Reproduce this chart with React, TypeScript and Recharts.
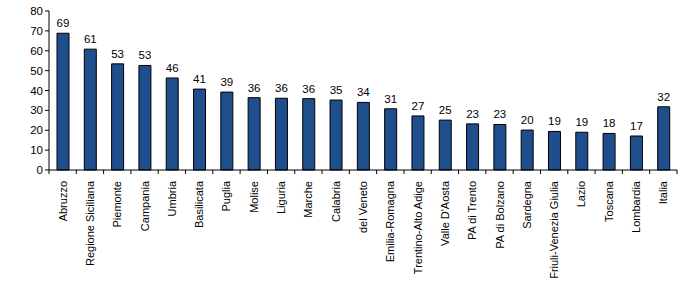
import React from "react";
import { BarChart, Bar, XAxis, YAxis, LabelList } from "recharts";

const categories = [
  "Abruzzo", "Regione Siciliana", "Piemonte", "Campania", "Umbria", "Basilicata",
  "Puglia", "Molise", "Liguria", "Marche", "Calabria", "del Veneto", "Emilia-Romagna",
  "Trentino-Alto Adige", "Valle D'Aosta", "PA di Trento", "PA di Bolzano", "Sardegna",
  "Friuli-Venezia Giulia", "Lazio", "Toscana", "Lombardia", "Italia",
];
const values = [
  68.8, 60.8, 53.4, 52.6, 46.3, 40.7, 39.2, 36.4, 36.1, 35.9, 35.2, 34.0, 30.8,
  27.2, 25.1, 23.2, 22.9, 20.1, 19.4, 19.0, 18.4, 17.1, 31.8,
];
const yTicks = [0, 10, 20, 30, 40, 50, 60, 70, 80];

const data = categories.map((name, i) => ({ name, value: values[i] }));

const FONT = "'Liberation Sans', Arial, sans-serif";

const XTick = (props: any) => {
  const { x, y, payload, index, width, visibleTicksCount } = props;
  const band = width / visibleTicksCount;
  const left = x - band / 2;
  return (
    <g>
      <line x1={left} x2={left} y1={y - 8} y2={y - 4} stroke="#000" strokeWidth={1} />
      {index === visibleTicksCount - 1 && (
        <line x1={x + band / 2} x2={x + band / 2} y1={y - 8} y2={y - 4} stroke="#000" strokeWidth={1} />
      )}
      <text
        x={0}
        y={0}
        transform={`translate(${x + 4},${y + 3}) rotate(-90)`}
        textAnchor="end"
        fontSize={11}
        fontFamily={FONT}
        fill="#000"
      >
        {payload.value}
      </text>
    </g>
  );
};

export default function App() {
  return (
    <div style={{ position: "absolute", left: 0, top: 0, width: 700, height: 287, background: "#fff" }}>
      <BarChart
        width={700}
        height={287}
        data={data}
        margin={{ top: 11, right: 23, bottom: 7, left: 8 }}
        barCategoryGap={0}
      >
        <XAxis
          dataKey="name"
          interval={0}
          tickLine={false}
          axisLine={{ stroke: "#000" }}
          tick={<XTick />}
          height={110}
        />
        <YAxis
          domain={[0, 80]}
          ticks={yTicks}
          interval={0}
          width={41}
          axisLine={{ stroke: "#000" }}
          tickLine={{ stroke: "#000" }}
          tickSize={4}
          tick={{ fontSize: 11.5, fontFamily: FONT, fill: "#000" }}
        />
        <Bar
          dataKey="value"
          fill="#1F4E8C"
          stroke="#000"
          strokeWidth={1}
          barSize={12}
          isAnimationActive={false}
        >
          <LabelList
            dataKey="value"
            position="top"
            offset={6}
            formatter={(v: any) => Math.round(Number(v))}
            style={{ fontSize: 11.5, fontFamily: FONT, fill: "#000" }}
          />
        </Bar>
      </BarChart>
    </div>
  );
}
